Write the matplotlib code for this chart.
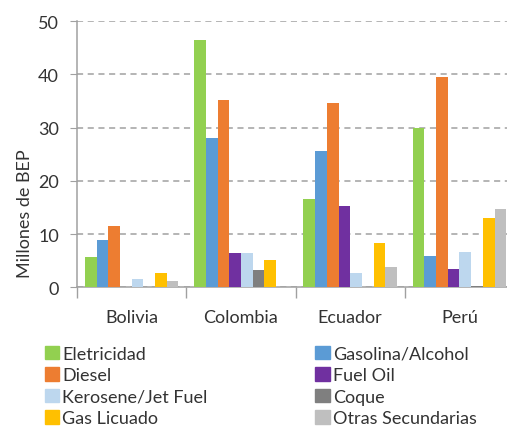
import matplotlib
matplotlib.use("Agg")
import matplotlib.pyplot as plt
import numpy as np
from matplotlib.patches import Patch

plt.rcParams['font.family'] = ['Lato', 'DejaVu Sans']

countries = ["Bolivia", "Colombia", "Ecuador", "Perú"]
series = ["Eletricidad", "Gasolina/Alcohol", "Diesel", "Fuel Oil",
          "Kerosene/Jet Fuel", "Coque", "Gas Licuado", "Otras Secundarias"]
eletricidad = [5.6, 46.5, 16.5, 29.9]
gasolina = [8.8, 28.0, 25.6, 5.9]
diesel = [11.5, 35.1, 34.6, 39.5]
fuel_oil = [0.0, 6.4, 15.2, 3.4]
kerosene = [1.5, 6.4, 2.7, 6.6]
coque = [0.0, 3.2, 0.0, 0.3]
gas_licuado = [2.7, 5.2, 8.3, 13.0]
otras = [1.2, 0.0, 3.8, 14.7]
values = [eletricidad, gasolina, diesel, fuel_oil, kerosene, coque, gas_licuado, otras]
colors = ["#92D050", "#5B9BD5", "#ED7D31", "#7030A0",
          "#BDD7EE", "#7F7F7F", "#FFC000", "#BFBFBF"]
yticks = [0, 10, 20, 30, 40, 50]

fig = plt.figure(figsize=(5.07, 4.27), dpi=100)
ax = fig.add_axes([0.152, 0.325, 0.862, 0.623])

x = np.arange(len(countries))
w = 0.107
n = len(series)
for i, (vals, c) in enumerate(zip(values, colors)):
    ax.bar(x + (i - (n - 1) / 2) * w, vals, width=w, color=c, zorder=3)

ax.set_xlim(-0.5, 3.5)
ax.set_ylim(0, 50)
ax.set_yticks(yticks)
ax.yaxis.grid(True, linestyle=(0, (4, 3)), color="#A0A0A0", linewidth=1.1, zorder=0)
ax.tick_params(axis='y', length=5, color="#A0A0A0", labelsize=13, labelcolor="#333333", pad=8)
ax.set_xticks(x)
ax.set_xticklabels(countries)
ax.tick_params(axis='x', which='major', length=0, labelsize=13, labelcolor="#333333", pad=16)
ax.set_xticks(np.arange(-0.5, 4.0, 1.0), minor=True)
ax.tick_params(axis='x', which='minor', length=8, color="#A0A0A0", width=1)
for s in ['top', 'right']:
    ax.spines[s].set_visible(False)
for s in ['left', 'bottom']:
    ax.spines[s].set_color("#A0A0A0")
    ax.spines[s].set_linewidth(1.1)
ax.set_ylabel("Millones de BEP", fontsize=13, color="#333333")
ax.yaxis.set_label_coords(33 / 507, 0.5, transform=fig.transFigure)

handles = [Patch(color=c, label=s) for s, c in zip(series, colors)]
order = [0, 2, 4, 6, 1, 3, 5, 7]
leg = fig.legend([handles[i] for i in order], [series[i] for i in order],
                 ncol=2, loc='upper left', bbox_to_anchor=(0.088, 0.188),
                 frameon=False, fontsize=13, handlelength=0.78, handleheight=0.78,
                 handletextpad=0.2, columnspacing=5.97, labelspacing=0.3,
                 borderaxespad=0, borderpad=0)
for t in leg.get_texts():
    t.set_color("#333333")

fig.savefig("out.png", dpi=100)
